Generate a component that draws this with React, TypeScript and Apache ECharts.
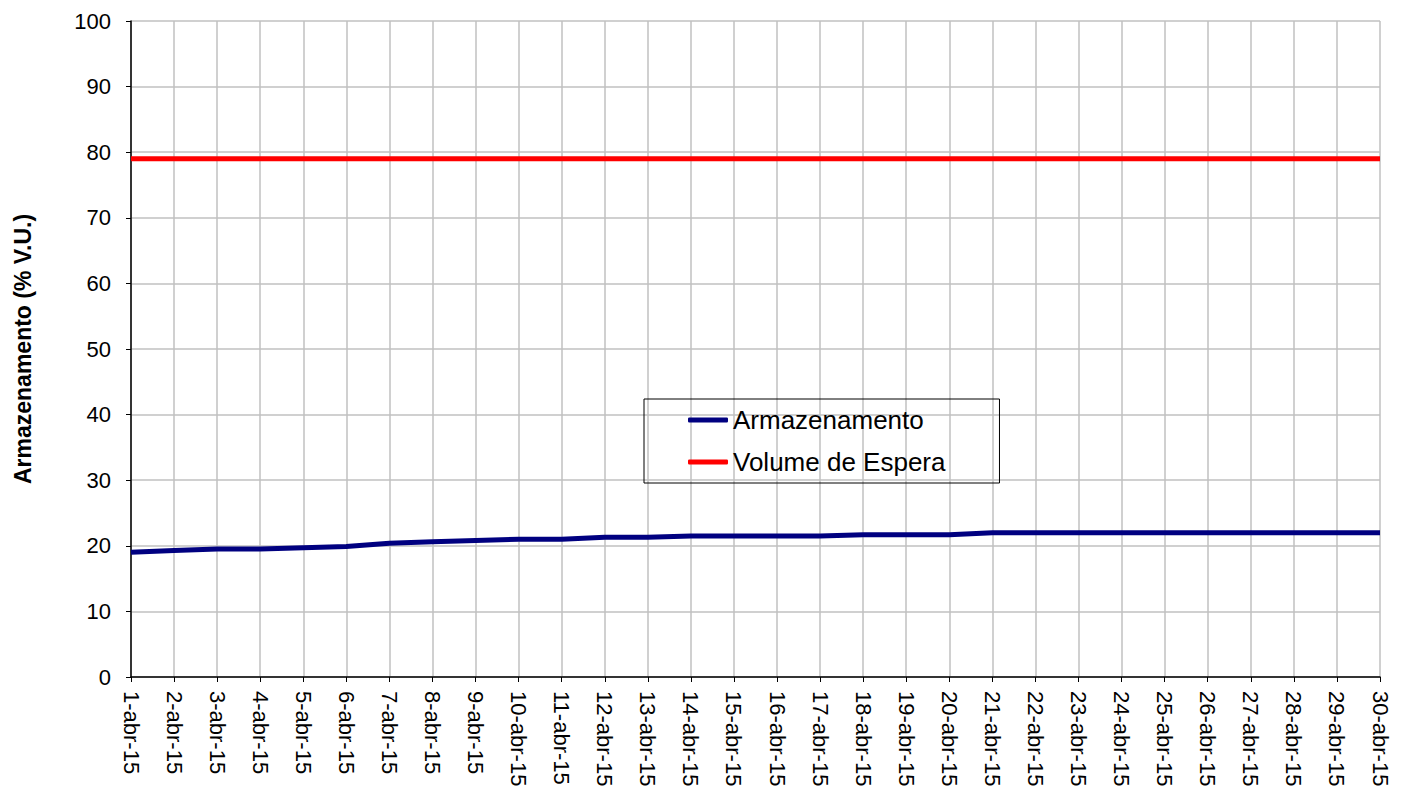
import React, { useEffect, useRef } from "react";
import * as echarts from "echarts";

const days: string[] = Array.from({ length: 30 }, (_, i) => `${i + 1}-abr-15`);
const armazenamento: number[] = [
  19.0, 19.3, 19.5, 19.5, 19.7, 19.9, 20.4, 20.6, 20.8, 21.0,
  21.0, 21.3, 21.3, 21.5, 21.5, 21.5, 21.5, 21.7, 21.7, 21.7,
  22.0, 22.0, 22.0, 22.0, 22.0, 22.0, 22.0, 22.0, 22.0, 22.0,
];
const volumeEspera: number[] = days.map(() => 79);

const FONT = "Liberation Sans, Arial, sans-serif";

export default function App() {
  const ref = useRef<HTMLDivElement>(null);
  useEffect(() => {
    if (!ref.current) return;
    const chart = echarts.init(ref.current, undefined, { renderer: "svg" });
    chart.setOption({
      animation: false,
      backgroundColor: "#ffffff",
      textStyle: { fontFamily: FONT },
      grid: { left: 131, right: 26, top: 21, bottom: 116, show: false },
      xAxis: {
        type: "category",
        data: days,
        boundaryGap: false,
        axisLine: { lineStyle: { color: "#000", width: 1.5 } },
        axisTick: { show: true, alignWithLabel: true, length: 5, lineStyle: { color: "#000" } },
        axisLabel: {
          rotate: -90,
          interval: 0,
          color: "#000",
          fontSize: 22,
          margin: 14,
          fontFamily: FONT,
        },
        splitLine: { show: true, lineStyle: { color: "#c0c0c0", width: 1.5 } },
      },
      yAxis: {
        type: "value",
        min: 0,
        max: 100,
        interval: 10,
        name: "Armazenamento (% V.U.)",
        nameLocation: "middle",
        nameGap: 97,
        nameRotate: 90,
        nameTextStyle: {
          color: "#000",
          fontSize: 23,
          fontWeight: "bold",
          fontFamily: FONT,
        },
        axisLine: { show: true, lineStyle: { color: "#000", width: 1.5 } },
        axisTick: { show: true, length: 5, lineStyle: { color: "#000" } },
        axisLabel: {
          color: "#000",
          fontSize: 22,
          margin: 20,
          fontFamily: FONT,
        },
        splitLine: { show: true, lineStyle: { color: "#c0c0c0", width: 1.5 } },
      },
      legend: {
        orient: "vertical",
        left: 644,
        top: 399,
        borderColor: "#000",
        borderWidth: 1,
        borderRadius: 0,
        padding: [8, 54, 8, 44],
        itemGap: 16,
        itemWidth: 40,
        itemHeight: 5,
        icon: "roundRect",
        textStyle: {
          color: "#000",
          fontSize: 26,
          fontFamily: FONT,
        },
        data: ["Armazenamento", "Volume de Espera"],
      },
      series: [
        {
          name: "Armazenamento",
          type: "line",
          data: armazenamento,
          showSymbol: false,
          symbol: "none",
          lineStyle: { color: "#000080", width: 5 },
          itemStyle: { color: "#000080" },
          z: 3,
        },
        {
          name: "Volume de Espera",
          type: "line",
          data: volumeEspera,
          showSymbol: false,
          symbol: "none",
          lineStyle: { color: "#ff0000", width: 5 },
          itemStyle: { color: "#ff0000" },
          z: 2,
        },
      ],
    });
    return () => chart.dispose();
  }, []);
  return (
    <div
      ref={ref}
      style={{ position: "absolute", left: 0, top: 0, width: 1406, height: 793 }}
    />
  );
}
